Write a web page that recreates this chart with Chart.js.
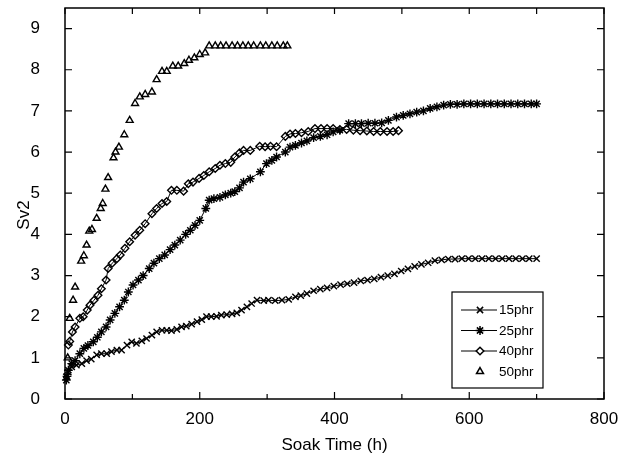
<!DOCTYPE html>
<html lang="en">
<head>
  <meta charset="UTF-8">
  <title>Sv2 vs Soak Time</title>
  <script src="https://cdn.jsdelivr.net/npm/chart.js"></script>
  <style>
    body {
      margin: 0;
      padding: 0;
      background: #fff;
    }
    #box {
      width: 629px;
      height: 462px;
    }
  </style>
</head>
<body>
<div id="box">
  <canvas id="svChart" width="629" height="462"></canvas>
</div>

<script>
  // data
  const seriesNames = ["15phr", "25phr", "40phr", "50phr"];
  const xTicks = [0, 200, 400, 600, 800];
  const yTicks = [0, 1, 2, 3, 4, 5, 6, 7, 8, 9];

  const time15 = [2, 5, 10, 17, 25, 32, 39, 47, 54, 62, 69, 77, 84, 92, 99, 106, 114, 121, 129, 136,
    144, 151, 158, 166, 173, 180, 188, 196, 203, 210, 217, 225, 232, 240, 248, 255, 262, 270, 277, 285,
    295, 302, 312, 322, 332, 342, 350, 359, 369, 379, 389, 399, 409, 419, 429, 439, 449, 459, 469, 479,
    489, 499, 509, 519, 529, 539, 549, 559, 569, 579, 589, 599, 609, 619, 629, 639, 649, 659, 669, 679,
    689, 700];
  const sv15 = [0.54, 0.65, 0.78, 0.82, 0.86, 0.93, 0.97, 1.07, 1.10, 1.10, 1.15, 1.19, 1.19, 1.31, 1.39, 1.35, 1.41, 1.47, 1.55, 1.63,
    1.67, 1.67, 1.66, 1.69, 1.75, 1.77, 1.82, 1.88, 1.93, 2.00, 2.00, 2.01, 2.04, 2.05, 2.07, 2.09, 2.16, 2.24, 2.32, 2.40,
    2.39, 2.40, 2.39, 2.40, 2.42, 2.48, 2.51, 2.56, 2.63, 2.67, 2.70, 2.74, 2.78, 2.80, 2.83, 2.87, 2.89, 2.92, 2.96, 3.00,
    3.04, 3.11, 3.16, 3.22, 3.27, 3.31, 3.36, 3.38, 3.40, 3.40, 3.41, 3.41, 3.41, 3.41, 3.41, 3.41, 3.41, 3.41, 3.41, 3.41,
    3.41, 3.41];

  const time25 = [2, 3, 5, 10, 15, 22, 28, 34, 42, 48, 54, 61, 67, 74, 81, 88, 94, 101, 109, 116,
    125, 132, 140, 148, 156, 163, 171, 179, 186, 193, 200, 209, 214, 221, 230, 238, 246, 252, 259, 265,
    275, 290, 299, 307, 314, 327, 334, 342, 351, 359, 369, 379, 389, 398, 408, 421, 431, 440, 450, 460,
    470, 480, 492, 502, 512, 522, 532, 542, 552, 562, 572, 582, 592, 602, 612, 622, 632, 642, 652, 662,
    672, 682, 692, 700];
  const sv25 = [0.46, 0.55, 0.70, 0.86, 0.93, 1.10, 1.23, 1.30, 1.39, 1.50, 1.63, 1.75, 1.92, 2.08, 2.24, 2.40, 2.60, 2.77, 2.89, 3.00,
    3.17, 3.30, 3.41, 3.50, 3.63, 3.74, 3.86, 4.00, 4.10, 4.22, 4.34, 4.63, 4.83, 4.87, 4.90, 4.96, 5.00, 5.04, 5.13, 5.27,
    5.35, 5.52, 5.72, 5.80, 5.88, 6.00, 6.12, 6.16, 6.22, 6.27, 6.35, 6.38, 6.42, 6.49, 6.53, 6.69, 6.69, 6.69, 6.70, 6.70,
    6.71, 6.77, 6.85, 6.89, 6.93, 6.97, 7.00, 7.06, 7.10, 7.14, 7.16, 7.16, 7.17, 7.17, 7.17, 7.17, 7.17, 7.17, 7.17, 7.17,
    7.17, 7.17, 7.17, 7.17];

  const time40 = [5, 7, 11, 15, 22, 27, 33, 37, 43, 49, 54, 61, 64, 70, 77, 82, 89, 96, 104, 111,
    119, 129, 136, 144, 151, 158, 166, 176, 183, 190, 199, 206, 214, 223, 230, 238, 246, 252, 259, 265,
    275, 289, 297, 305, 314, 327, 334, 342, 351, 361, 371, 380, 389, 398, 408, 418, 428, 438, 448, 458,
    468, 478, 487, 495];
  const sv40 = [1.31, 1.40, 1.63, 1.75, 1.96, 2.00, 2.16, 2.28, 2.40, 2.52, 2.68, 2.89, 3.17, 3.30, 3.41, 3.50, 3.66, 3.82, 3.98, 4.10,
    4.26, 4.50, 4.63, 4.75, 4.80, 5.07, 5.07, 5.05, 5.23, 5.27, 5.36, 5.43, 5.52, 5.60, 5.68, 5.72, 5.75, 5.88, 5.98, 6.04,
    6.04, 6.14, 6.13, 6.14, 6.13, 6.38, 6.44, 6.45, 6.47, 6.50, 6.57, 6.57, 6.57, 6.57, 6.55, 6.55, 6.53, 6.52, 6.51, 6.50,
    6.50, 6.50, 6.50, 6.52];

  const time50 = [4, 7, 12, 15, 24, 28, 32, 36, 40, 47, 53, 56, 60, 64, 72, 75, 80, 88, 96, 104,
    111, 119, 129, 136, 144, 151, 160, 168, 177, 184, 192, 200, 208, 214, 223, 231, 239, 248, 256, 264,
    272, 280, 290, 298, 307, 315, 324, 330];
  const sv50 = [1.00, 1.96, 2.40, 2.72, 3.35, 3.48, 3.74, 4.08, 4.12, 4.39, 4.63, 4.75, 5.10, 5.38, 5.86, 6.00, 6.12, 6.42, 6.77, 7.18,
    7.34, 7.40, 7.46, 7.76, 7.96, 7.96, 8.09, 8.09, 8.15, 8.23, 8.29, 8.37, 8.41, 8.58, 8.58, 8.58, 8.58, 8.58, 8.58, 8.58,
    8.58, 8.58, 8.58, 8.58, 8.58, 8.58, 8.58, 8.58];

  const FONT = "'Liberation Sans', Arial, Helvetica, sans-serif";

  function toPoints(xs, ys) {
    return xs.map((x, i) => ({ x: x, y: ys[i] }));
  }

  function makeSet(i, xs, ys, style, radius, withLine) {
    return {
      label: seriesNames[i],
      data: toPoints(xs, ys),
      showLine: withLine,
      borderColor: "#000",
      borderWidth: 1,
      pointStyle: style,
      pointRadius: radius,
      pointBorderWidth: 1.4,
      pointBorderColor: "#000",
      pointBackgroundColor: "rgba(0,0,0,0)",
      tension: 0,
      clip: false
    };
  }

  // inward ticks + full frame, like the original plot
  const framePlugin = {
    id: "frame",
    afterDraw(chart) {
      const { ctx, chartArea: a, scales } = chart;
      ctx.save();
      ctx.strokeStyle = "#000";
      ctx.lineWidth = 1.5;
      ctx.strokeRect(a.left, a.top, a.right - a.left, a.bottom - a.top);
      ctx.lineWidth = 1.2;
      ctx.beginPath();
      scales.x.ticks.forEach(t => {
        const px = scales.x.getPixelForValue(t.value);
        const len = t.value % 200 === 0 ? 7 : 5;
        ctx.moveTo(px, a.bottom); ctx.lineTo(px, a.bottom - len);
        ctx.moveTo(px, a.top); ctx.lineTo(px, a.top + 6);
      });
      scales.y.ticks.forEach(t => {
        const py = scales.y.getPixelForValue(t.value);
        const len = Number.isInteger(t.value) ? 7 : 4;
        ctx.moveTo(a.left, py); ctx.lineTo(a.left + len, py);
        ctx.moveTo(a.right, py); ctx.lineTo(a.right - len, py);
      });
      ctx.stroke();

      // y axis title
      ctx.fillStyle = "#000";
      ctx.font = "17px " + FONT;
      ctx.textAlign = "center";
      ctx.textBaseline = "middle";
      ctx.translate(24, 215);
      ctx.rotate(-Math.PI / 2);
      ctx.fillText("Sv2", 0, 0);
      ctx.restore();
    }
  };

  const legendPlugin = {
    id: "boxLegend",
    afterDraw(chart) {
      const ctx = chart.ctx;
      const bx = 452, by = 292, bw = 91, bh = 96;
      ctx.save();
      ctx.fillStyle = "#fff";
      ctx.fillRect(bx, by, bw, bh);
      ctx.strokeStyle = "#000";
      ctx.lineWidth = 1.2;
      ctx.strokeRect(bx, by, bw, bh);
      ctx.font = "13.5px " + FONT;
      ctx.textBaseline = "middle";
      ctx.textAlign = "left";
      chart.data.datasets.forEach((ds, i) => {
        const y = by + 18 + i * 20.5;
        const mx = 480;
        ctx.strokeStyle = "#000";
        ctx.lineWidth = 1;
        if (ds.showLine) {
          ctx.beginPath();
          ctx.moveTo(461, y); ctx.lineTo(497, y);
          ctx.stroke();
        }
        ctx.lineWidth = 1.5;
        ctx.fillStyle = ds.showLine ? "#fff" : "rgba(0,0,0,0)";
        Chart.helpers.drawPoint(ctx, {
          pointStyle: ds.pointStyle,
          rotation: 0,
          radius: ds.pointRadius,
          borderWidth: 1.5
        }, mx, y);
        ctx.fillStyle = "#000";
        ctx.fillText(ds.label, 499, y + 0.5);
      });
      ctx.restore();
    }
  };

  const ctx = document.getElementById("svChart").getContext("2d");
  const chart = new Chart(ctx, {
    type: "line",
    data: {
      datasets: [
        makeSet(0, time15, sv15, "crossRot", 4.4, true),
        makeSet(1, time25, sv25, "star", 4.4, true),
        makeSet(2, time40, sv40, "rectRot", 3.8, true),
        makeSet(3, time50, sv50, "triangle", 4, false)
      ]
    },
    options: {
      responsive: false,
      animation: false,
      devicePixelRatio: 1,
      layout: { padding: { top: 8, right: 25, left: 0, bottom: 0 } },
      plugins: {
        legend: { display: false },
        tooltip: { enabled: false }
      },
      scales: {
        x: {
          type: "linear",
          min: 0,
          max: 800,
          grid: { display: false },
          border: { display: false },
          ticks: {
            stepSize: 100,
            color: "#000",
            font: { family: FONT, size: 17 },
            padding: 2,
            maxRotation: 0,
            callback: v => xTicks.includes(v) ? v : ""
          },
          title: {
            display: true,
            text: "Soak Time (h)",
            color: "#000",
            font: { family: FONT, size: 17 },
            padding: { top: 0, bottom: 6 }
          },
          afterFit: s => {
            s.height = 63;
            s.paddingLeft = 0;
            s.paddingRight = 0;
          }
        },
        y: {
          min: 0,
          max: 9.5,
          grid: { display: false },
          border: { display: false },
          ticks: {
            stepSize: 0.5,
            color: "#000",
            font: { family: FONT, size: 17 },
            padding: 17,
            callback: v => yTicks.includes(v) ? v : ""
          },
          afterFit: s => {
            s.width = 65;
            s.paddingTop = 0;
            s.paddingBottom = 0;
          }
        }
      }
    },
    plugins: [framePlugin, legendPlugin]
  });
</script>
</body>
</html>
